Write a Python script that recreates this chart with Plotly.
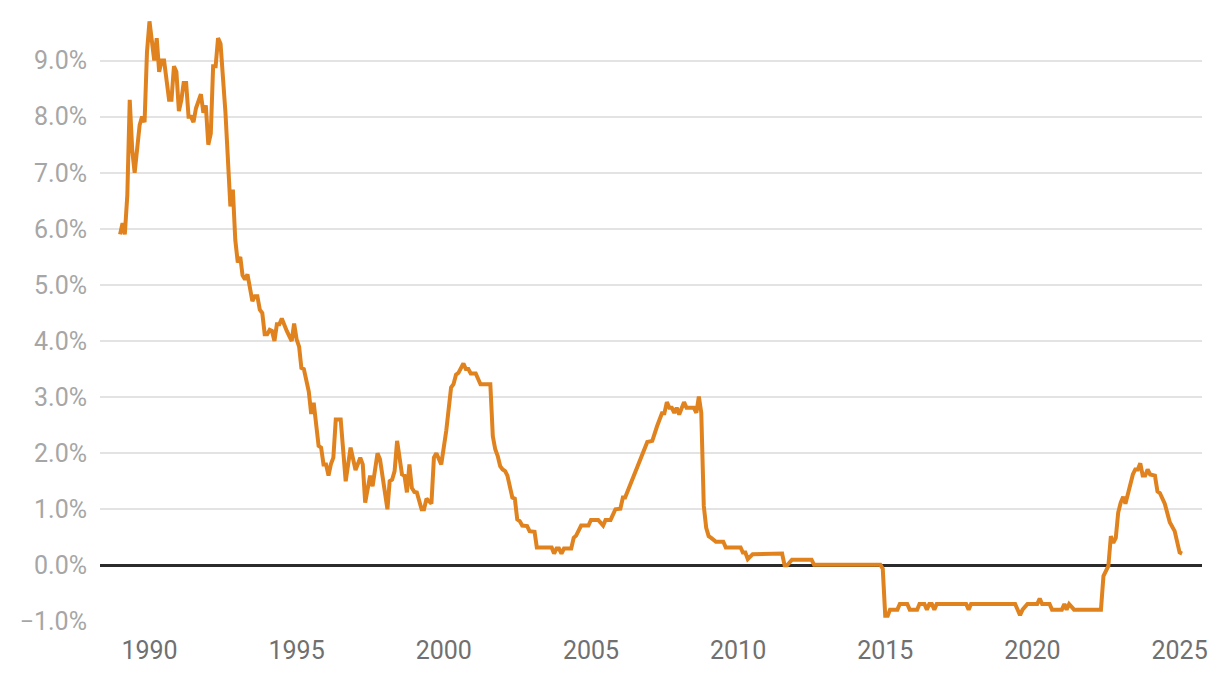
import plotly.graph_objects as go

dates = [
    "1989-01", "1989-02", "1989-03", "1989-04", "1989-05", "1989-06", "1989-07", "1989-08", "1989-09", "1989-10", "1989-11", "1989-12",
    "1990-01", "1990-03", "1990-04", "1990-05", "1990-06", "1990-07", "1990-09", "1990-10", "1990-11", "1990-12",
    "1991-01", "1991-02", "1991-03", "1991-04", "1991-05", "1991-06", "1991-07", "1991-08", "1991-10", "1991-11", "1991-12",
    "1992-01", "1992-02", "1992-03", "1992-04", "1992-05", "1992-06", "1992-08", "1992-09", "1992-10", "1992-11", "1992-12",
    "1993-01", "1993-02", "1993-03", "1993-04", "1993-05", "1993-07", "1993-08", "1993-09", "1993-10", "1993-11", "1993-12",
    "1994-01", "1994-02", "1994-03", "1994-04", "1994-05", "1994-06", "1994-07", "1994-09", "1994-11", "1994-12",
    "1995-01", "1995-02", "1995-03", "1995-04", "1995-06", "1995-07", "1995-08", "1995-10", "1995-11", "1995-12",
    "1996-01", "1996-02", "1996-03", "1996-04", "1996-05", "1996-07", "1996-09", "1996-11",
    "1997-01", "1997-03", "1997-04", "1997-05", "1997-07", "1997-08", "1997-10", "1997-11",
    "1998-01", "1998-02", "1998-03", "1998-04", "1998-05", "1998-06", "1998-08", "1998-09", "1998-10", "1998-11", "1998-12",
    "1999-01", "1999-02", "1999-04", "1999-05", "1999-06", "1999-08", "1999-09", "1999-10", "1999-12",
    "2000-02", "2000-04", "2000-05", "2000-06", "2000-07", "2000-09", "2000-10", "2000-11", "2000-12",
    "2001-02", "2001-04", "2001-08", "2001-09", "2001-10", "2001-11", "2001-12",
    "2002-01", "2002-02", "2002-03", "2002-05", "2002-06", "2002-07", "2002-08", "2002-09", "2002-11", "2002-12",
    "2003-02", "2003-03", "2003-09", "2003-10", "2003-11", "2003-12",
    "2004-01", "2004-02", "2004-05", "2004-06", "2004-07", "2004-09", "2004-12",
    "2005-01", "2005-04", "2005-06", "2005-07", "2005-09", "2005-11",
    "2006-01", "2006-02", "2006-03", "2006-12",
    "2007-02", "2007-04", "2007-06", "2007-07", "2007-08", "2007-09", "2007-10", "2007-11", "2007-12",
    "2008-01", "2008-03", "2008-04", "2008-07", "2008-08", "2008-09", "2008-10", "2008-11", "2008-12",
    "2009-01", "2009-02", "2009-04", "2009-07", "2009-08",
    "2010-02", "2010-03", "2010-04", "2010-05", "2010-07",
    "2011-07", "2011-08", "2011-09", "2011-11",
    "2012-07", "2012-08",
    "2014-11", "2014-12",
    "2015-01", "2015-02", "2015-03", "2015-06", "2015-07", "2015-10", "2015-11",
    "2016-02", "2016-03", "2016-05", "2016-06", "2016-07", "2016-08", "2016-09", "2016-10",
    "2017-10", "2017-11", "2017-12",
    "2019-06", "2019-08", "2019-09", "2019-11",
    "2020-03", "2020-04", "2020-05", "2020-08", "2020-09",
    "2021-01", "2021-02", "2021-03", "2021-04", "2021-06",
    "2022-05", "2022-06", "2022-08", "2022-09", "2022-10", "2022-11", "2022-12",
    "2023-01", "2023-02", "2023-03", "2023-04", "2023-05", "2023-06", "2023-07", "2023-08", "2023-09", "2023-10", "2023-11", "2023-12",
    "2024-01", "2024-03", "2024-04", "2024-05", "2024-07", "2024-08", "2024-09", "2024-11",
    "2025-01", "2025-02",
]

rates = [
    5.9, 6.1, 5.9, 6.6, 8.3, 7.4, 7.0, 7.5, 7.85, 8.0, 7.9, 9.15,
    9.7, 9.0, 9.4, 8.8, 9.0, 9.0, 8.3, 8.3, 8.9, 8.8,
    8.1, 8.3, 8.6, 8.6, 8.0, 8.0, 7.9, 8.15, 8.4, 8.07, 8.2,
    7.5, 7.7, 8.9, 8.9, 9.4, 9.3, 8.07, 7.2, 6.4, 6.7, 5.8,
    5.4, 5.5, 5.17, 5.1, 5.19, 4.71, 4.8, 4.8, 4.56, 4.5, 4.12,
    4.12, 4.2, 4.18, 4.0, 4.3, 4.3, 4.4, 4.18, 4.0, 4.31,
    4.03, 3.9, 3.52, 3.5, 3.1, 2.7, 2.9, 2.13, 2.1, 1.8,
    1.8, 1.6, 1.8, 1.92, 2.6, 2.6, 1.5, 2.1,
    1.7, 1.92, 1.8, 1.12, 1.6, 1.41, 2.0, 1.89,
    1.27, 1.0, 1.5, 1.53, 1.68, 2.22, 1.62, 1.6, 1.3, 1.8, 1.38,
    1.31, 1.3, 1.0, 1.0, 1.19, 1.1, 1.92, 2.0, 1.8,
    2.4, 3.17, 3.23, 3.4, 3.43, 3.6, 3.5, 3.5, 3.42,
    3.42, 3.23, 3.23, 2.3, 2.07, 1.95, 1.77,
    1.71, 1.68, 1.6, 1.21, 1.19, 0.82, 0.79, 0.71, 0.7, 0.61,
    0.6, 0.32, 0.32, 0.21, 0.3, 0.3,
    0.21, 0.3, 0.3, 0.49, 0.53, 0.71, 0.71,
    0.81, 0.81, 0.71, 0.81, 0.81, 1.0,
    1.01, 1.21, 1.21, 2.2,
    2.22, 2.48, 2.71, 2.71, 2.91, 2.81, 2.81, 2.72, 2.81,
    2.69, 2.91, 2.81, 2.81, 2.72, 3.01, 2.72, 1.06, 0.67,
    0.52, 0.49, 0.42, 0.42, 0.32,
    0.32, 0.23, 0.23, 0.11, 0.2,
    0.21, 0.0, 0.0, 0.1,
    0.1, 0.01,
    0.01, -0.06,
    -0.9, -0.9, -0.79, -0.79, -0.69, -0.69, -0.79,
    -0.79, -0.69, -0.69, -0.79, -0.69, -0.69, -0.79, -0.69,
    -0.69, -0.79, -0.69,
    -0.69, -0.89, -0.79, -0.69,
    -0.69, -0.59, -0.69, -0.69, -0.79,
    -0.79, -0.69, -0.79, -0.69, -0.79,
    -0.79, -0.19, -0.01, 0.52, 0.4, 0.49, 0.94,
    1.12, 1.22, 1.1, 1.29, 1.41, 1.62, 1.71, 1.71, 1.82, 1.6, 1.6, 1.71,
    1.62, 1.6, 1.32, 1.29, 1.1, 0.91, 0.77, 0.61,
    0.23, 0.21,
]

y_ticks = [-1, 0, 1, 2, 3, 4, 5, 6, 7, 8, 9]
x_tick_years = ["1990", "1995", "2000", "2005", "2010", "2015", "2020", "2025"]

FONT = "Roboto"

fig = go.Figure()
fig.add_trace(go.Scatter(
    x=dates, y=rates, mode="lines",
    line=dict(color="#E0821E", width=4),
    hoverinfo="skip", showlegend=False,
))

fig.update_layout(
    width=1220, height=678,
    margin=dict(l=100, r=18, t=0, b=56),
    paper_bgcolor="white", plot_bgcolor="white",
    font=dict(family=FONT),
)
fig.update_xaxes(
    type="date",
    range=["1988-04-27", "2025-10-06"],
    tickvals=[y + "-01-01" for y in x_tick_years],
    ticktext=x_tick_years,
    showgrid=False, zeroline=False, showline=False,
    ticks="", ticklabelstandoff=11,
    tickfont=dict(family=FONT, size=25, color="#707070"),
)
fig.update_yaxes(
    range=[-1.01, 10.08],
    tickvals=y_ticks,
    ticktext=[("\u2212" if v < 0 else "") + f"{abs(v):.1f}%" for v in y_ticks],
    showgrid=True, gridcolor="#e3e3e3", gridwidth=2,
    zeroline=True, zerolinecolor="#2b2b2b", zerolinewidth=2.5,
    showline=False, ticks="", ticklabelstandoff=12,
    tickfont=dict(family=FONT, size=25, color="#a6a6a6"),
)

fig.write_html(
    "out.html",
    config={"displayModeBar": False},
    post_script="document.body.style.margin='0';document.body.style.overflow='hidden';",
)
